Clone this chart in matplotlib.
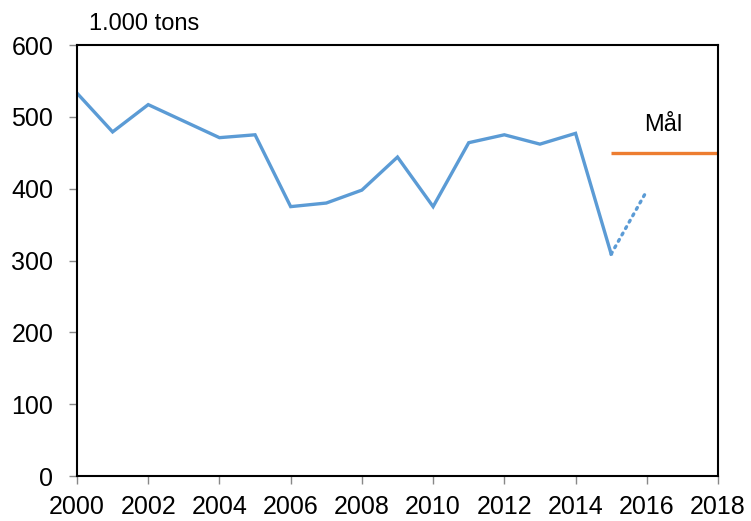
import matplotlib.pyplot as plt

plt.rcParams['font.family'] = ['Liberation Sans', 'DejaVu Sans']

# data
years = [2000, 2001, 2002, 2003, 2004, 2005, 2006, 2007, 2008, 2009,
         2010, 2011, 2012, 2013, 2014, 2015]
tons = [533, 479, 517, 494, 471, 475, 375, 380, 398, 444,
        375, 464, 475, 462, 477, 309]
proj_years = [2015, 2016]
proj_tons = [309, 397]
goal_years = [2015, 2018]
goal_tons = [450, 450]

blue = "#5b9bd5"
orange = "#ed7d31"

fig = plt.figure(figsize=(7.51, 5.21), dpi=100)
ax = fig.add_axes([77 / 751, 45 / 521, 641 / 751, 431 / 521])

ax.plot(years, tons, color=blue, lw=2.4, solid_joinstyle="miter")
ax.plot(proj_years, proj_tons, color=blue, lw=2.4, linestyle=(0, (0.6, 1.6)),
        dash_capstyle="round")
ax.plot(goal_years, goal_tons, color=orange, lw=2.4, solid_capstyle="butt")

ax.text(2016.45, 489, "Mål", fontsize=17, ha="center", va="center")
ax.text(2000.35, 629, "1.000 tons", fontsize=17, ha="left", va="center",
        clip_on=False)

ax.set_xlim(2000, 2018)
ax.set_ylim(0, 600)
ax.set_xticks(range(2000, 2019, 2))
ax.set_yticks(range(0, 601, 100))
ax.tick_params(axis="both", labelsize=18, direction="out", length=6,
               width=1, color="#888888")
ax.tick_params(axis="x", pad=8)
ax.tick_params(axis="y", pad=11)
for s in ax.spines.values():
    s.set_color("black")
    s.set_linewidth(1.5)

plt.savefig("out.png", dpi=100)
